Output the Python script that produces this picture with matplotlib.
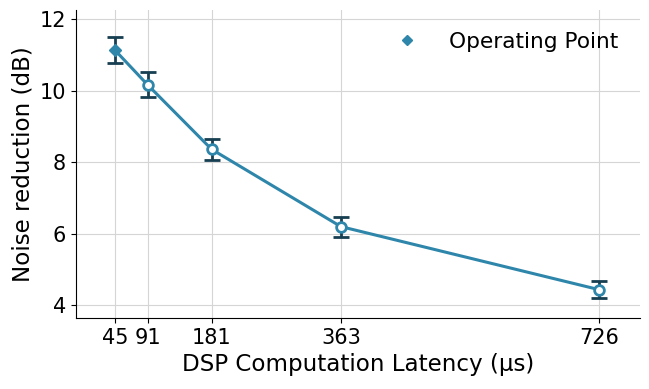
import numpy as np
import matplotlib.pyplot as plt

latency = [45, 91, 181, 363, 726]
noise_red = [11.13, 10.16, 8.36, 6.20, 4.44]
noise_err = [0.37, 0.35, 0.29, 0.28, 0.23]

line_color = '#2E86AB'
err_color = '#173F52'

fig, ax = plt.subplots(figsize=(6.49, 3.89), dpi=100)

ax.errorbar(latency, noise_red, yerr=noise_err, fmt='none', ecolor=err_color,
            elinewidth=2, capsize=6, capthick=2, zorder=2)
ax.plot(latency, noise_red, color=line_color, lw=2.2, zorder=3)
ax.plot(latency[1:], noise_red[1:], 'o', ms=7, mfc='white', mec=line_color,
        mew=2, zorder=4)
ax.plot(latency[:1], noise_red[:1], 'D', ms=6.5, color=line_color, ls='none',
        zorder=5, label='Operating Point')

ax.set_xticks(latency)
ax.set_xlim(-10, 784)
ax.set_ylim(3.64, 12.25)
ax.set_yticks([4, 6, 8, 10, 12])
ax.tick_params(labelsize=15)
ax.set_xlabel('DSP Computation Latency (µs)', fontsize=16.6)
ax.set_ylabel('Noise reduction (dB)', fontsize=16.6)
ax.grid(True, color='#d5d5d5', lw=0.8)
ax.set_axisbelow(True)
ax.spines['top'].set_visible(False)
ax.spines['right'].set_visible(False)
ax.legend(frameon=False, fontsize=15.6, loc='upper right', handletextpad=0.7,
          handlelength=2.5, markerscale=0.85, borderaxespad=0.6)

fig.subplots_adjust(left=0.117, right=0.986, top=0.974, bottom=0.182)
fig.savefig('out.png')
